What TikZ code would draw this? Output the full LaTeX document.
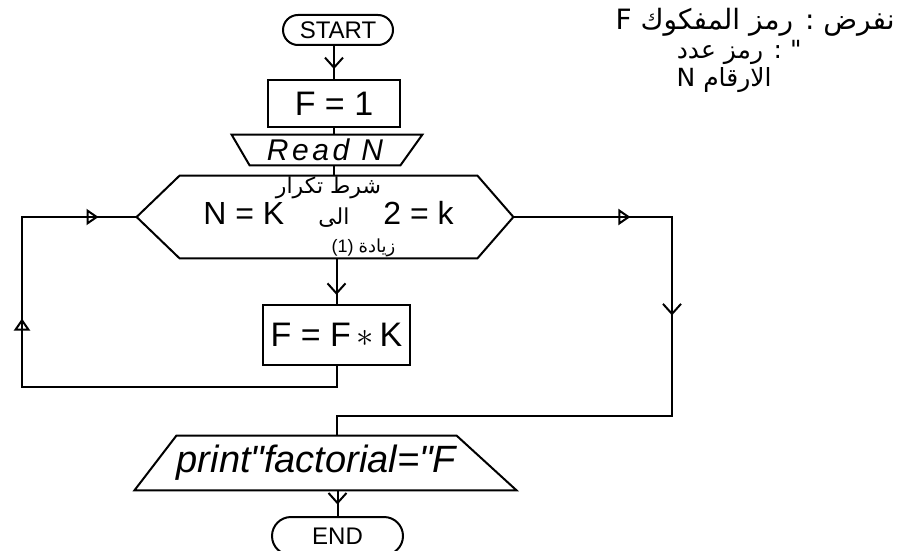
\documentclass[tikz,border=0pt]{standalone}
\usepackage{fontspec}
\setmainfont{Liberation Sans}[Ligatures=TeXOff]
\newfontfamily\arabicfont[Script=Arabic]{DejaVu Sans}
\TeXXeTstate=1
\usetikzlibrary{arrows.meta,decorations.markings,shapes.misc}

\tikzset{
  flow/.style={line width=1pt},
  blk/.style={draw, line width=1pt, inner sep=0pt, font=\fontsize{17}{20}\selectfont},
  term/.style={draw, rounded rectangle, line width=1pt, inner sep=0pt, font=\fontsize{12}{14}\selectfont},
  ghost/.style={inner sep=0pt},
  note/.style={inner sep=0pt, font=\arabicfont\fontsize{12.5}{13}\selectfont},
  barbat/.style={decoration={markings, mark=at position #1 with {\arrow{Straight Barb[length=5pt,width=9pt]}}}, postaction=decorate},
}

\begin{document}
\begin{tikzpicture}[x=0.5pt, y=-0.5pt]
  \useasboundingbox (0,0) rectangle (899,551);

  % Start, init and input
  \node[term, minimum width=55pt, minimum height=15pt] (start) at (338,30) {START};
  \node[blk, minimum width=66pt, minimum height=23.5pt] (f1) at (334,103.5) {F = 1};
  \node[ghost, minimum width=75pt, minimum height=15pt, font=\itshape\fontsize{15}{15}\selectfont\addfontfeatures{LetterSpace=12}] (readn) at (325,150) {Read N};
  \draw[flow] ([xshift=-9pt]readn.north west) -- ([xshift=11pt]readn.north east) -- (readn.south east) -- (readn.south west) -- cycle;

  % Loop condition (hexagon)
  \node[ghost, minimum width=148.5pt, minimum height=41pt, align=center, font=\fontsize{11}{12}\selectfont] (cond) at (328.5,217)
    {{\arabicfont\beginR شرط تكرار\endR}\\[0pt]
     {\fontsize{16}{16}\selectfont N = K\hspace{17pt}{\arabicfont\fontsize{11}{11}\selectfont\beginR الى\endR}\hspace{17pt}2 = k}\\[2pt]
     \hspace*{35pt}{\fontsize{9}{9}\selectfont (1) {\arabicfont\beginR زيادة\endR}}};
  \coordinate (condL) at ([xshift=-21.5pt]cond.west);
  \coordinate (condR) at ([xshift=18pt]cond.east);
  \draw[flow] (cond.north west) -- (cond.north east) -- (condR) -- (cond.south east) -- (cond.south west) -- (condL) -- cycle;

  % Body, output, end
  \node[blk, minimum width=73.5pt, minimum height=30pt] (fk) at (336.5,335) {F = F\,$\ast$\,K};
  \node[ghost, minimum width=116.5pt, minimum height=27pt, font=\itshape\fontsize{19}{21}\selectfont] (prnt) at (316.5,463) {print"factorial="F};
  \draw[flow] (prnt.north west) -- (prnt.north east) -- ([xshift=30pt]prnt.south east) -- ([xshift=-21pt]prnt.south west) -- cycle;
  \node[term, minimum width=65.5pt, minimum height=19pt] (stop) at (337.5,536) {END};

  % Notes
  \node[note, anchor=east, font=\arabicfont\fontsize{14}{14}\selectfont] (note1) at (895,22) {\beginR نفرض : رمز المفكوك F\endR};
  \node[note, anchor=east] (note2) at (802,52) {\beginR " : رمز عدد\endR};
  \node[note, anchor=east] (note3) at (772,80) {\beginR الارقام N\endR};

  % Main line
  \draw[flow, barbat=0.7] (f1.north |- start.south) -- (f1.north);
  \draw[flow] (f1.south) -- (f1.south |- readn.north);
  \draw[flow] (f1.south |- readn.south) -- (f1.south |- cond.north);
  \draw[flow, barbat=0.8] (fk.north |- cond.south) -- (fk.north);
  \draw[flow, barbat=0.55] (stop.north |- prnt.south) -- (stop.north);

  % Loop back and exit
  \coordinate (loopL) at (22,387);
  \coordinate (loopR) at (672,416);
  \draw[flow, postaction=decorate, decoration={markings,
      mark=at position 202pt with {\arrow{Triangle[open,length=6pt,width=8pt]}},
      mark=at position 291pt with {\arrow{Triangle[open,length=6pt,width=8pt]}}}]
    (fk.south) |- (loopL) |- (condL);
  \draw[flow, postaction=decorate, decoration={markings,
      mark=at position 58.5pt with {\arrow{Triangle[open,length=6pt,width=8pt]}},
      mark=at position 128.5pt with {\arrow{Straight Barb[length=5pt,width=9pt]}}}]
    (condR) -| (loopR) -| (fk.south |- prnt.north);
\end{tikzpicture}
\end{document}
